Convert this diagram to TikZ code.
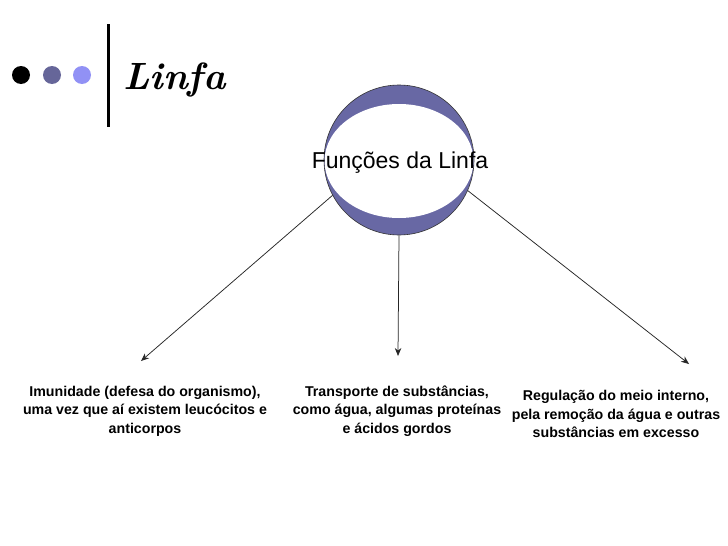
\documentclass[tikz,border=0pt]{standalone}
\usepackage{fontspec}
\newfontfamily\arialfont{Liberation Sans}
\usetikzlibrary{arrows.meta}
\definecolor{crescent}{RGB}{104,104,164}
\definecolor{dotmid}{RGB}{102,102,153}
\definecolor{dotlight}{RGB}{145,145,245}
\begin{document}
\begin{tikzpicture}[x=1pt,y=-1pt,
  conn/.style={draw=black!85, line width=0.75pt, -{Stealth[length=8pt,width=6.5pt]}},
  txt/.style={font=\arialfont\bfseries\fontsize{14.2}{18.5}\selectfont, align=center, text=black, inner sep=0pt}]
\useasboundingbox (0,0) rectangle (728,546);
\fill[white] (0,0) rectangle (728,546);
% title bar
\fill[black] (21,75) circle (9);
\fill[dotmid] (52,75) circle (9);
\fill[dotlight] (82,75) circle (9);
\fill[black] (107,24) rectangle (110,127);
\node[anchor=base west, font=\fontsize{38}{42}\selectfont\bfseries\itshape, inner sep=0pt] (title) at (123,89) {Linfa};
% central circle
\begin{scope}
  \clip (399,160) circle (75);
  \fill[crescent] (399,160) circle (75);
  \fill[white] (399,161) ellipse (74.5 and 57);
\end{scope}
\node[circle, draw=black!80, line width=0.6pt, minimum size=150pt, inner sep=0pt] (c) at (399,160) {};
\node[font=\arialfont\fontsize{23}{26}\selectfont, inner sep=0pt] (ct) at (400,163) {Funções da Linfa};
% end points
\coordinate (l) at (141,361);
\coordinate (m) at (398,356);
\coordinate (r) at (689,364);
\draw[conn] (c.208) -- (l);
\draw[conn] (c.270) -- (m);
\draw[conn] (c.336) -- (r);
% labels
\node[txt] (t1) at (145,411) {Imunidade (defesa do organismo),\\uma vez que aí existem leucócitos e\\anticorpos};
\node[txt] (t2) at (397,411) {Transporte de substâncias,\\como água, algumas proteínas\\e ácidos gordos};
\node[txt] (t3) at (616,414) {Regulação do meio interno,\\pela remoção da água e outras\\substâncias em excesso};
\end{tikzpicture}
\end{document}
